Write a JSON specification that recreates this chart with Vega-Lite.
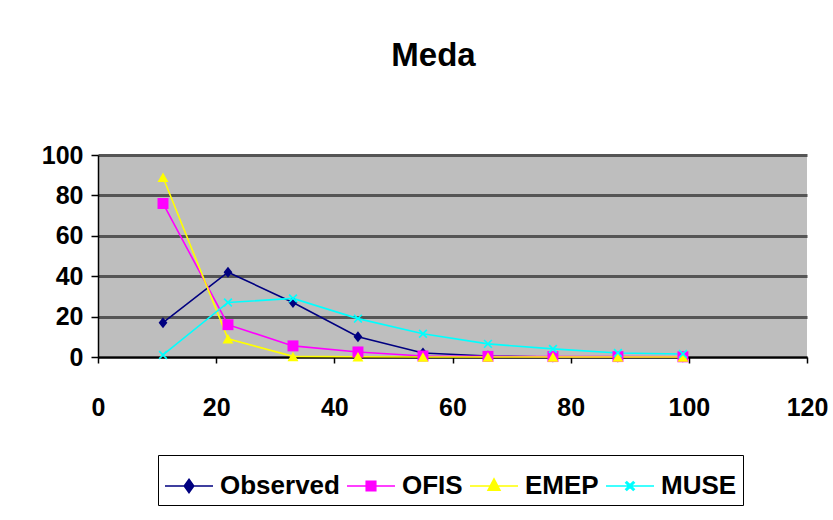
{
  "$schema": "https://vega.github.io/schema/vega-lite/v6.json",
  "width": 709,
  "height": 202,
  "autosize": {"type": "none"},
  "padding": {"left": 98, "top": 155, "right": 26, "bottom": 163},
  "background": "white",
  "title": {"text": "Meda", "fontSize": 33, "font": "Liberation Sans", "fontWeight": "bold", "color": "black", "anchor": "middle", "dx": -19, "offset": 70},
  "data": {"values": [
    {"x": 11, "y": 17, "series": "Observed"},
    {"x": 22, "y": 42, "series": "Observed"},
    {"x": 33, "y": 27, "series": "Observed"},
    {"x": 44, "y": 10, "series": "Observed"},
    {"x": 55, "y": 2, "series": "Observed"},
    {"x": 66, "y": 0.5, "series": "Observed"},
    {"x": 77, "y": 0, "series": "Observed"},
    {"x": 88, "y": 0, "series": "Observed"},
    {"x": 99, "y": 0, "series": "Observed"},
    {"x": 11, "y": 76, "series": "OFIS"},
    {"x": 22, "y": 16, "series": "OFIS"},
    {"x": 33, "y": 5.5, "series": "OFIS"},
    {"x": 44, "y": 2.5, "series": "OFIS"},
    {"x": 55, "y": 0.5, "series": "OFIS"},
    {"x": 66, "y": 0.3, "series": "OFIS"},
    {"x": 77, "y": 0.2, "series": "OFIS"},
    {"x": 88, "y": 0.2, "series": "OFIS"},
    {"x": 99, "y": 0.1, "series": "OFIS"},
    {"x": 11, "y": 89, "series": "EMEP"},
    {"x": 22, "y": 9, "series": "EMEP"},
    {"x": 33, "y": 0.3, "series": "EMEP"},
    {"x": 44, "y": 0.1, "series": "EMEP"},
    {"x": 55, "y": 0, "series": "EMEP"},
    {"x": 66, "y": 0, "series": "EMEP"},
    {"x": 77, "y": 0, "series": "EMEP"},
    {"x": 88, "y": 0, "series": "EMEP"},
    {"x": 99, "y": 0, "series": "EMEP"},
    {"x": 11, "y": 1, "series": "MUSE"},
    {"x": 22, "y": 27, "series": "MUSE"},
    {"x": 33, "y": 29, "series": "MUSE"},
    {"x": 44, "y": 19, "series": "MUSE"},
    {"x": 55, "y": 11.5, "series": "MUSE"},
    {"x": 66, "y": 6.5, "series": "MUSE"},
    {"x": 77, "y": 4, "series": "MUSE"},
    {"x": 88, "y": 2, "series": "MUSE"},
    {"x": 99, "y": 1.5, "series": "MUSE"}
  ]},
  "encoding": {
    "x": {"field": "x", "type": "quantitative", "scale": {"domain": [0, 120], "nice": false},
      "axis": {"values": [0, 20, 40, 60, 80, 100, 120], "title": null, "grid": false, "tickSize": 6, "labelPadding": 32, "labelFlush": false}},
    "y": {"field": "y", "type": "quantitative", "scale": {"domain": [0, 100], "nice": false},
      "axis": {"values": [0, 20, 40, 60, 80, 100], "title": null, "grid": true, "tickSize": 7, "labelPadding": 8}}
  },
  "layer": [
    {
      "mark": {"type": "line", "strokeWidth": 1.6},
      "encoding": {
        "color": {"field": "series", "type": "nominal",
          "scale": {"domain": ["Observed", "OFIS", "EMEP", "MUSE"], "range": ["#000080", "#ff00ff", "#ffff00", "#00ffff"]},
          "legend": null}
      }
    },
    {
      "mark": {"type": "point", "filled": true, "opacity": 1, "size": 120},
      "encoding": {
        "color": {"field": "series", "type": "nominal",
          "scale": {"domain": ["Observed", "OFIS", "EMEP", "MUSE"], "range": ["#000080", "#ff00ff", "#ffff00", "#00ffff"]},
          "legend": null},
        "shape": {"field": "series", "type": "nominal",
          "scale": {"domain": ["Observed", "OFIS", "EMEP", "MUSE"], "range": ["M0,-1L0.8,0L0,1L-0.8,0Z", "square", "triangle-up", "M0.813,-0.601L0.212,0L0.813,0.601L0.601,0.813L0,0.212L-0.601,0.813L-0.813,0.601L-0.212,0L-0.813,-0.601L-0.601,-0.813L0,-0.212L0.601,-0.813Z"]},
          "legend": null}
      }
    },
    {
      "mark": {"type": "point", "size": 0},
      "encoding": {
        "fill": {"field": "series", "type": "nominal",
          "scale": {"domain": ["Observed", "OFIS", "EMEP", "MUSE"], "range": ["#000080", "#ff00ff", "#ffff00", "#00ffff"]},
          "legend": {"title": null}},
        "stroke": {"field": "series", "type": "nominal",
          "scale": {"domain": ["Observed", "OFIS", "EMEP", "MUSE"], "range": ["#000080", "#ff00ff", "#ffff00", "#00ffff"]},
          "legend": {"title": null}},
        "shape": {"field": "series", "type": "nominal",
          "scale": {"domain": ["Observed", "OFIS", "EMEP", "MUSE"], "range": [
            "M-1,0H1M0,-0.28L0.2,0L0,0.28L-0.2,0Z",
            "M-1,0H1M-0.2,-0.2H0.2V0.2H-0.2Z",
            "M-1,0H1M0,-0.3L0.25,0.18H-0.25Z",
            "M-1,0H1M0.179,-0.132L0.047,0L0.179,0.132L0.132,0.179L0,0.047L-0.132,0.179L-0.179,0.132L-0.047,0L-0.179,-0.132L-0.132,-0.179L0,-0.047L0.132,-0.179Z"
          ]},
          "legend": {"title": null}}
      }
    }
  ],
  "resolve": {"scale": {"shape": "independent", "fill": "independent", "stroke": "independent"}},
  "config": {
    "view": {"fill": "#bebebe", "stroke": null},
    "axis": {
      "labelFont": "Liberation Sans", "labelFontWeight": "bold", "labelFontSize": 25, "labelColor": "black",
      "domainColor": "black", "domainWidth": 1.5, "tickColor": "black", "tickWidth": 1.5,
      "gridColor": "#555555", "gridWidth": 3, "gridOpacity": 1
    },
    "legend": {
      "orient": "none", "legendX": 60, "legendY": 300, "direction": "horizontal",
      "strokeColor": "black", "fillColor": "white", "padding": 6,
      "symbolSize": 2304, "symbolStrokeWidth": 1.5, "symbolOpacity": 1,
      "labelFont": "Liberation Sans", "labelFontWeight": "bold", "labelFontSize": 26, "labelColor": "black",
      "labelOffset": 6, "columnPadding": 4, "labelLimit": 300
    }
  }
}
